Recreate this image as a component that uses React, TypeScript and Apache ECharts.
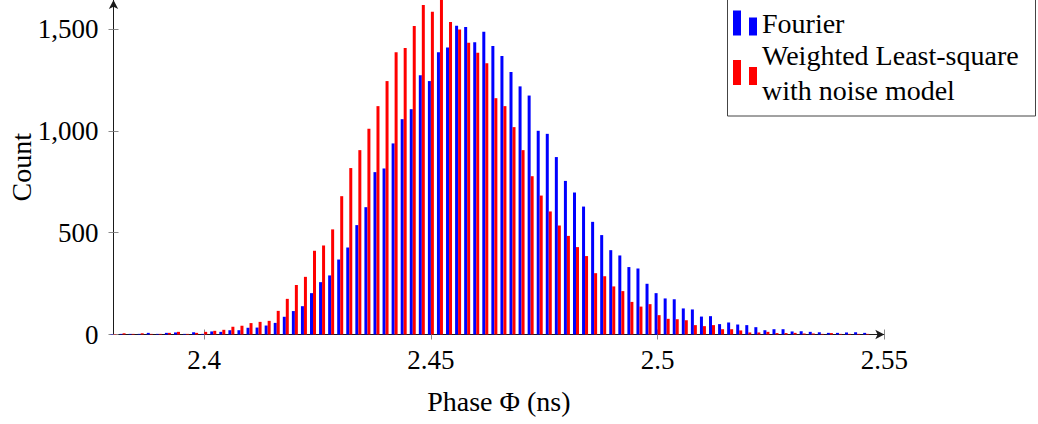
import React, { useEffect, useRef } from "react";
import * as echarts from "echarts";

// Histogram bin centres (ns)
const binCenters = [
  2.380, 2.382, 2.384, 2.386, 2.388, 2.390, 2.392, 2.394, 2.396, 2.398,
  2.400, 2.402, 2.404, 2.406, 2.408, 2.410, 2.412, 2.414, 2.416, 2.418,
  2.420, 2.422, 2.424, 2.426, 2.428, 2.430, 2.432, 2.434, 2.436, 2.438,
  2.440, 2.442, 2.444, 2.446, 2.448, 2.450, 2.452, 2.454, 2.456, 2.458,
  2.460, 2.462, 2.464, 2.466, 2.468, 2.470, 2.472, 2.474, 2.476, 2.478,
  2.480, 2.482, 2.484, 2.486, 2.488, 2.490, 2.492, 2.494, 2.496, 2.498,
  2.500, 2.502, 2.504, 2.506, 2.508, 2.510, 2.512, 2.514, 2.516, 2.518,
  2.520, 2.522, 2.524, 2.526, 2.528, 2.530, 2.532, 2.534, 2.536, 2.538,
  2.540, 2.542, 2.544, 2.546,
];

// Counts per bin, Fourier estimator
const fourierCounts = [
  2, 3, 3, 3, 8, 3, 8, 10, 3, 11,
  3, 15, 13, 21, 21, 33, 34, 44, 57, 87,
  115, 139, 203, 257, 290, 368, 427, 537, 625, 797,
  815, 938, 1057, 1106, 1272, 1244, 1386, 1409, 1516, 1509,
  1434, 1486, 1416, 1367, 1288, 1218, 1173, 1000, 985, 871,
  754, 697, 628, 553, 488, 414, 388, 331, 324, 249,
  203, 177, 173, 128, 123, 88, 90, 51, 59, 49,
  46, 36, 21, 26, 26, 15, 16, 13, 11, 8,
  8, 10, 11, 8,
];

// Counts per bin, weighted least-square fit with noise model
const wlsCounts = [
  2, 6, 3, 6, 3, 3, 8, 13, 3, 8,
  13, 18, 23, 38, 43, 56, 62, 67, 116, 175,
  243, 283, 411, 437, 516, 679, 817, 905, 1010, 1121,
  1244, 1385, 1406, 1514, 1617, 1584, 1645, 1534, 1497, 1432,
  1383, 1331, 1160, 1121, 1018, 905, 777, 682, 604, 535,
  484, 429, 385, 301, 286, 236, 213, 160, 137, 149,
  95, 77, 75, 70, 46, 41, 46, 26, 26, 20,
  10, 10, 13, 7, 7, 8, 5, 5, 3, 7,
  3, 3, 3, 3,
];

const xTickValues = [2.4, 2.45, 2.5, 2.55];
const yTickValues = [0, 500, 1000, 1500];
const seriesNames = ["Fourier", "Weighted Least-square with noise model"];
const legendLabels = ["Fourier", "Weighted Least-square\nwith noise model"];

const FONT = "Liberation Serif";
const AXIS_COLOR = "#1a1a1a";
const TICK_COLOR = "#8a8a8a";

export default function App() {
  const ref = useRef<HTMLDivElement>(null);

  useEffect(() => {
    if (!ref.current) return;
    const chart = echarts.init(ref.current, undefined, { renderer: "svg" });

    const xMin = 2.38;
    const xMax = 2.55;
    const yMax = 1642;

    const baseX = {
      type: "value" as const,
      min: xMin,
      max: xMax,
      position: "bottom" as const,
      splitLine: { show: false },
    };
    const baseY = {
      type: "value" as const,
      min: 0,
      max: yMax,
      position: "left" as const,
      splitLine: { show: false },
    };

    chart.setOption({
      animation: false,
      backgroundColor: "#ffffff",
      textStyle: { fontFamily: FONT },
      grid: {
        left: 113.5,
        right: 153.7,
        top: 0,
        bottom: 89.5,
        containLabel: false,
        outerBoundsMode: "none",
      },
      xAxis: [
        {
          ...baseX,
          name: "Phase Φ (ns)",
          nameLocation: "middle",
          nameGap: 53,
          nameMoveOverlap: false,
          nameTextStyle: { fontFamily: FONT, fontSize: 28, color: "#000" },
          axisLine: {
            show: true,
            onZero: false,
            symbol: ["none", "arrow"],
            symbolSize: [7, 9],
            lineStyle: { color: AXIS_COLOR, width: 1 },
          },
          axisTick: {
            show: true,
            length: 5,
            customValues: xTickValues,
            lineStyle: { color: TICK_COLOR, width: 1 },
          },
          axisLabel: {
            show: true,
            customValues: xTickValues,
            margin: 12,
            fontFamily: FONT,
            fontSize: 27,
            color: "#000",
            formatter: (v: number) => String(v),
          },
        },
        {
          ...baseX,
          axisLine: { show: false },
          axisTick: {
            show: true,
            inside: true,
            length: 5,
            customValues: xTickValues,
            lineStyle: { color: TICK_COLOR, width: 1 },
          },
          axisLabel: { show: false },
        },
      ],
      yAxis: [
        {
          ...baseY,
          name: "Count",
          nameLocation: "middle",
          nameGap: 78,
          nameMoveOverlap: false,
          nameTextStyle: { fontFamily: FONT, fontSize: 28, color: "#000" },
          axisLine: {
            show: true,
            onZero: false,
            symbol: ["none", "arrow"],
            symbolSize: [7, 9],
            lineStyle: { color: AXIS_COLOR, width: 1 },
          },
          axisTick: {
            show: true,
            length: 5,
            customValues: yTickValues,
            lineStyle: { color: TICK_COLOR, width: 1 },
          },
          axisLabel: {
            show: true,
            customValues: yTickValues,
            margin: 15,
            fontFamily: FONT,
            fontSize: 27,
            color: "#000",
            formatter: (v: number) => v.toLocaleString("en-US"),
          },
        },
        {
          ...baseY,
          axisLine: { show: false },
          axisTick: {
            show: true,
            inside: true,
            length: 5,
            customValues: yTickValues,
            lineStyle: { color: TICK_COLOR, width: 1 },
          },
          axisLabel: { show: false },
        },
      ],
      legend: {
        orient: "vertical",
        left: 733,
        top: 1,
        padding: 0,
        itemWidth: 24,
        itemHeight: 25,
        itemGap: -12,
        icon: "path://M0 0H8V25H0Z M16 7H24V25H16Z",
        data: seriesNames,
        formatter: (name: string) => legendLabels[seriesNames.indexOf(name)],
        textStyle: {
          fontFamily: FONT,
          fontSize: 28,
          lineHeight: 35,
          color: "#000",
          padding: [9, 0, 0, 0],
        },
      },
      graphic: [
        {
          type: "rect",
          z: 0,
          shape: { x: 727.5, y: -0.5, width: 308, height: 116.5 },
          style: { fill: "#ffffff", stroke: "#444", lineWidth: 1 },
        },
      ],
      series: [
        {
          name: seriesNames[0],
          type: "bar",
          xAxisIndex: 0,
          yAxisIndex: 0,
          barWidth: 3,
          barGap: "0%",
          itemStyle: { color: "#0000ff" },
          data: binCenters.map((x, i) => [x, fourierCounts[i]]),
        },
        {
          name: seriesNames[1],
          type: "bar",
          xAxisIndex: 0,
          yAxisIndex: 0,
          barWidth: 3,
          barGap: "0%",
          itemStyle: { color: "#ff0000" },
          data: binCenters.map((x, i) => [x, wlsCounts[i]]),
        },
      ],
    });

    return () => chart.dispose();
  }, []);

  return (
    <div
      ref={ref}
      style={{ position: "absolute", left: 0, top: 0, width: 1038, height: 424 }}
    />
  );
}
